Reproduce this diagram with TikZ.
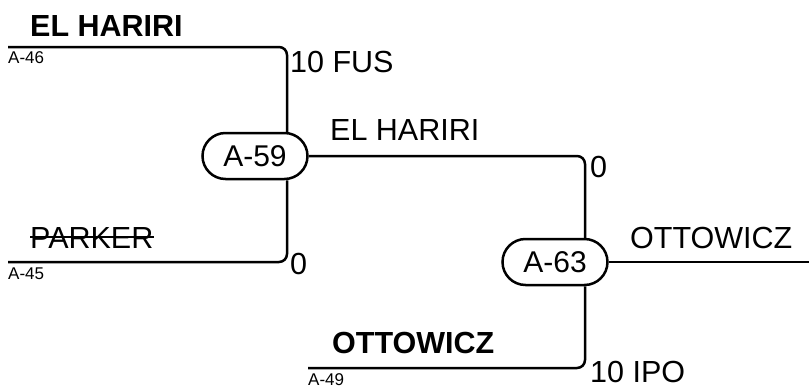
\documentclass[tikz,border=0pt]{standalone}
\usepackage{fontspec}
\setmainfont{Liberation Sans}
\usetikzlibrary{shapes.misc}
\tikzset{
  game/.style={rounded rectangle, draw, line width=2.5pt, minimum width=105pt, minimum height=46pt, inner sep=0pt, font=\fontsize{30}{30}\selectfont},
  wire/.style={line width=2.5pt, rounded corners=8pt},
  big/.style={anchor=base west, inner sep=0pt, font=\fontsize{30.5}{30}\selectfont},
  bigb/.style={anchor=base west, inner sep=0pt, font=\fontsize{30.5}{30}\selectfont\bfseries},
  small/.style={anchor=base west, inner sep=0pt, font=\fontsize{17}{17}\selectfont}
}
\begin{document}
\begin{tikzpicture}[x=1pt,y=-1pt]
\useasboundingbox (0,0) rectangle (809,388);
\node[game] (a59) at (255,156){A-59};
\node[game] (a63) at (555,262){A-63};
\coordinate (j59) at (287,156);
\coordinate (j63) at (585,262);
\coordinate (p46) at (8,47);
\coordinate (p45) at (8,262);
\coordinate (p49) at (308,368);
\coordinate (p63) at (809,262);
\draw[wire](p46) -| (a59.north -| j59);
\draw[wire](p45) -| (a59.south -| j59);
\draw[wire](a59.east) -| (a63.north -| j63);
\draw[wire](p49) -| (a63.south -| j63);
\draw[wire](a63.east) -- (p63);
\node[bigb] (n46) at (30,36){EL HARIRI};
\node[small] (l46) at (8,63){A-46};
\node[big] (s46) at (290,72){10 FUS};
\node[big] (parker) at (30,248){PARKER};
\draw[line width=2pt]([yshift=11pt]parker.base west) -- ([yshift=11pt]parker.base east);
\node[small] (l45) at (8,279){A-45};
\node[big] (s45) at (290,274){0};
\node[big] (w59) at (330,140){EL HARIRI};
\node[big] (s59) at (590,177){0};
\node[big] (w63) at (630,248){OTTOWICZ};
\node[bigb] (n49) at (332,353){OTTOWICZ};
\node[small] (l49) at (308,385){A-49};
\node[big] (s49) at (590,382){10 IPO};
\end{tikzpicture}
\end{document}
